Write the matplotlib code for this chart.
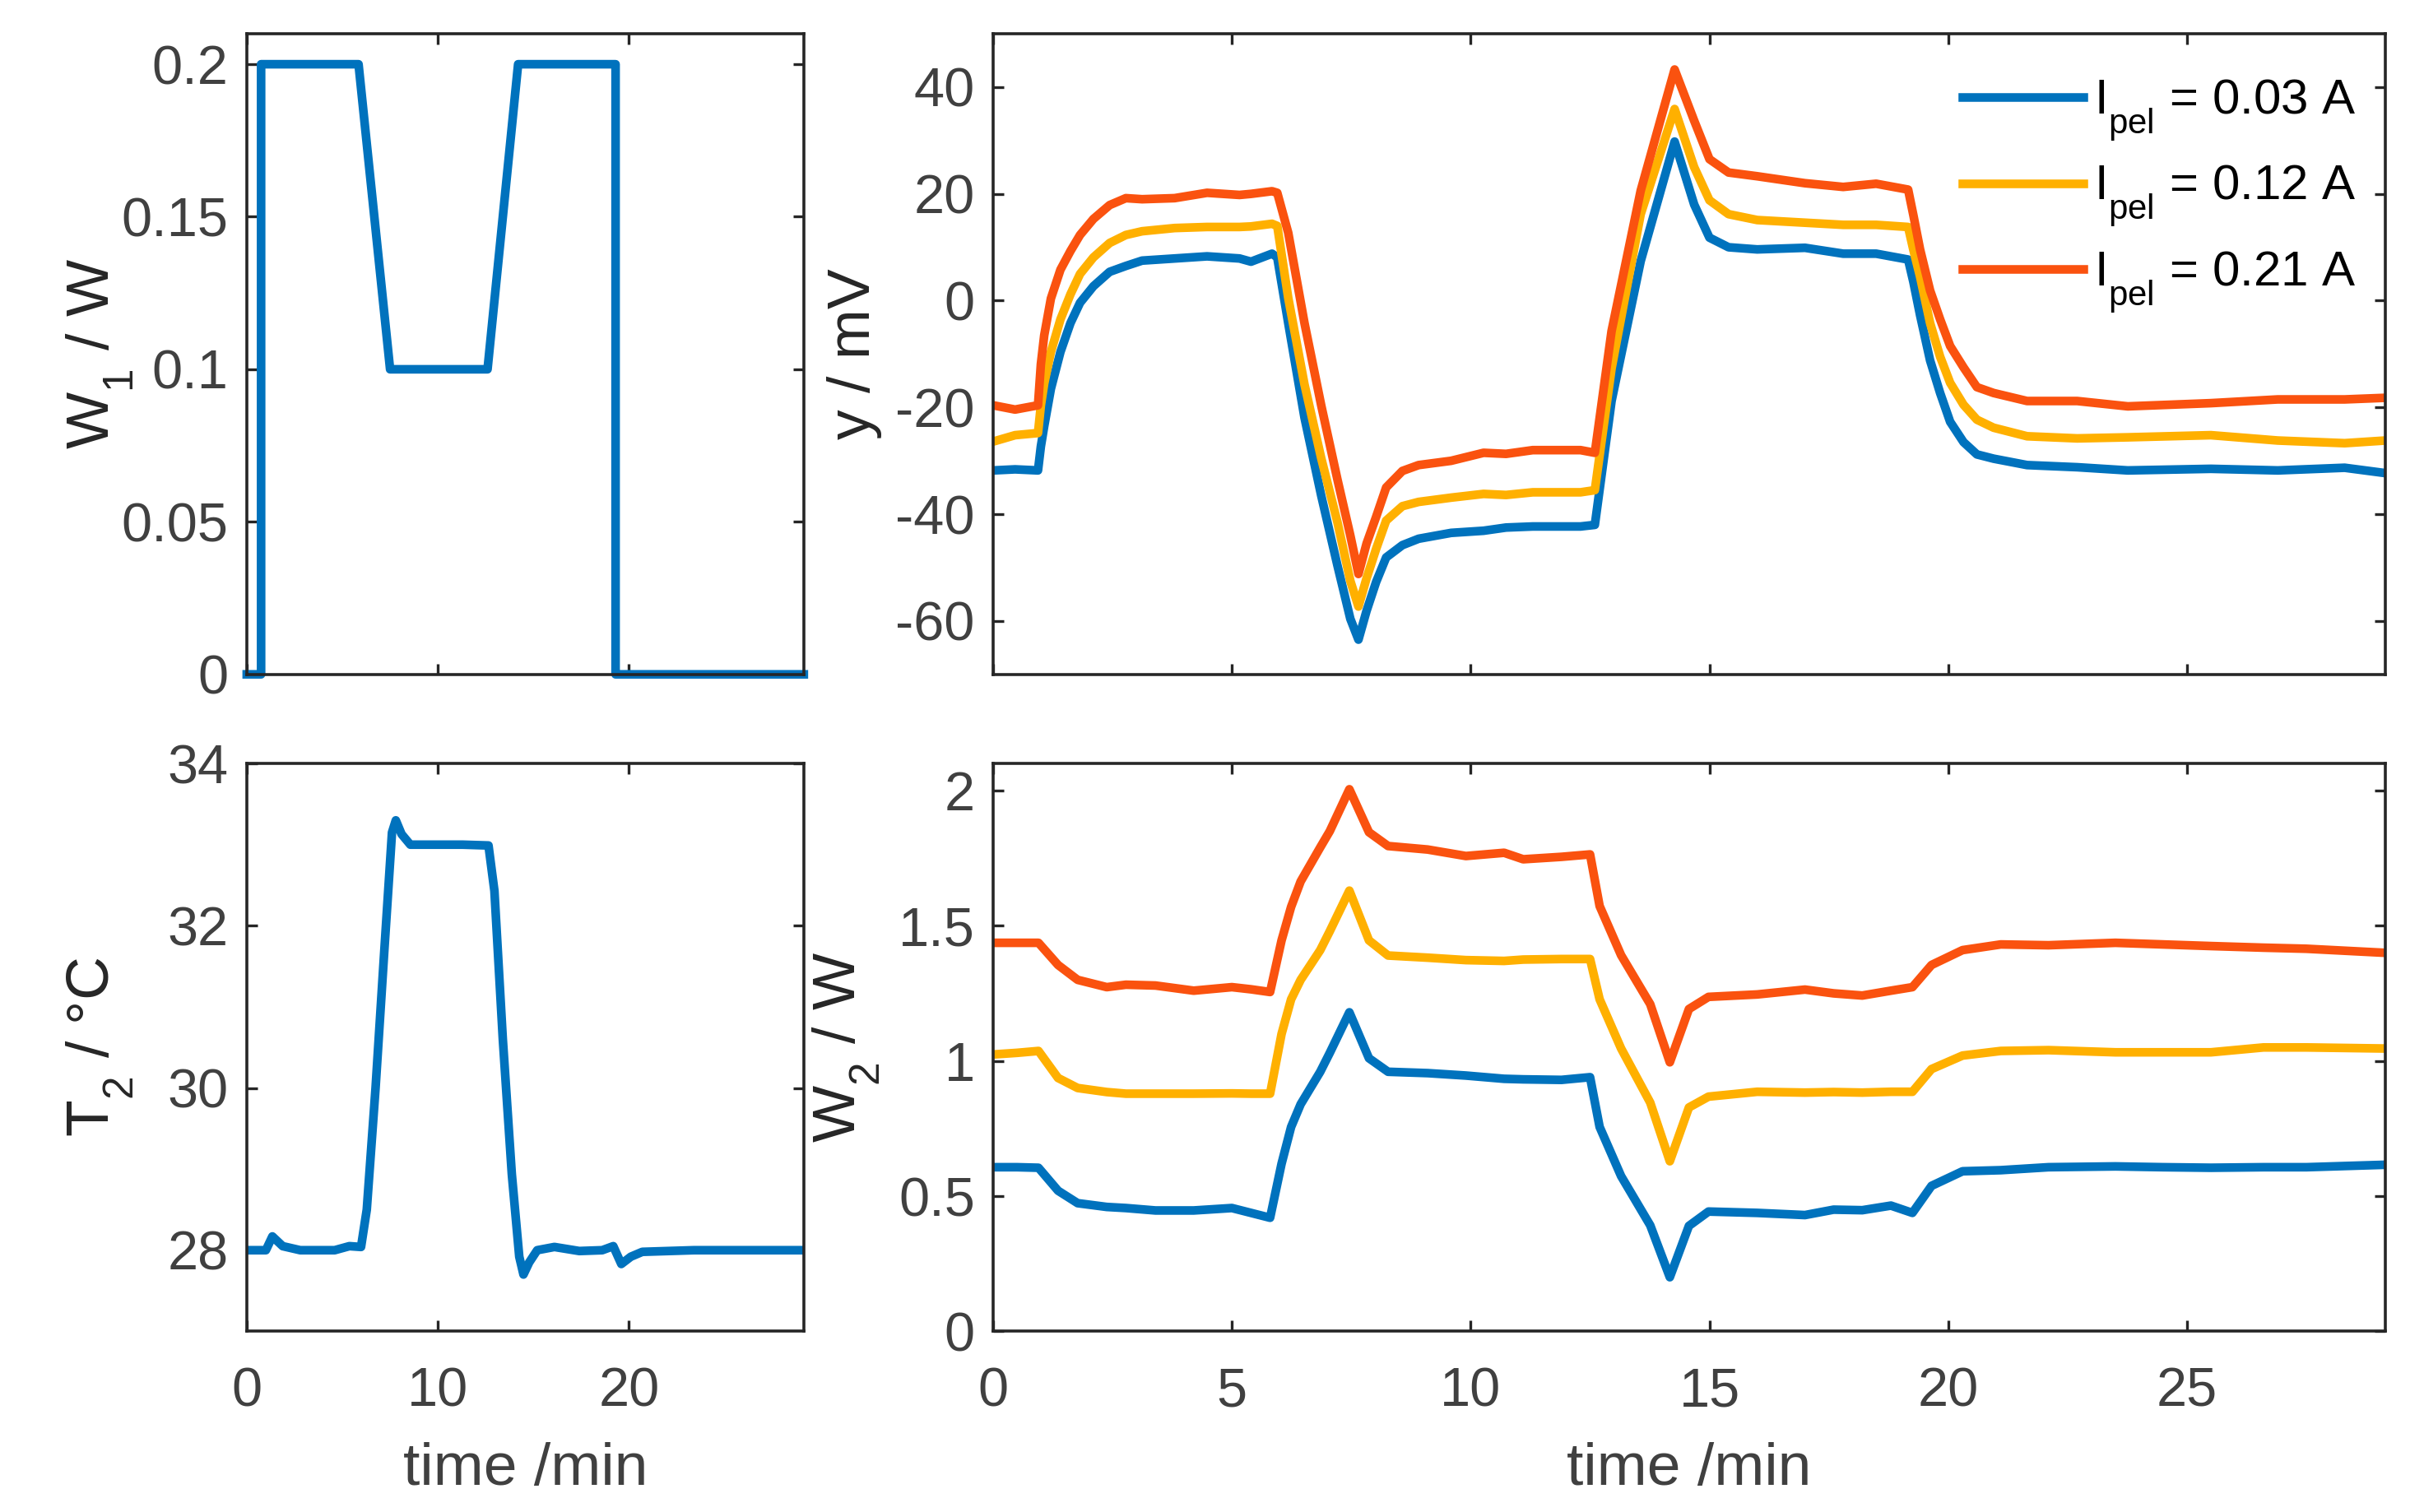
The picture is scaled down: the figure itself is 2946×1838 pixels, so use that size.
import matplotlib
matplotlib.use("Agg")
import matplotlib.pyplot as plt
from matplotlib.ticker import FuncFormatter

plt.rcParams["font.family"] = ["Liberation Sans", "DejaVu Sans"]
plt.rcParams["mathtext.fontset"] = "custom"
plt.rcParams["mathtext.rm"] = "Liberation Sans"
plt.rcParams["mathtext.default"] = "rm"
plt.rcParams["axes.unicode_minus"] = False

# MATLAB-like TeX subscripts sit lower than mathtext's default
try:
    import matplotlib._mathtext as _mt
    _mt.FontConstantsBase.sub1 = 0.8
except Exception:
    pass

# ---- data ----
series_labels = [r"I$_{\rm pel}$ = 0.03 A", r"I$_{\rm pel}$ = 0.12 A", r"I$_{\rm pel}$ = 0.21 A"]
colors = ["#0072BD", "#FFB000", "#FA520F"]

t_w1 = [0, 0.75, 0.75, 5.85, 7.5, 12.6, 14.2, 19.3, 19.3, 29.15]
w1 = [0, 0, 0.2, 0.2, 0.1, 0.1, 0.2, 0.2, 0, 0]

t_t2 = [0, 1.0, 1.34, 1.88, 2.8, 4.6, 5.37, 5.98, 6.28, 6.74,
        7.2, 7.6, 7.8, 8.1, 8.56, 10.0, 11.3, 12.65, 12.96, 13.4,
        13.87, 14.26, 14.48, 14.78, 15.2, 16.1, 17.4, 18.6, 19.18, 19.6,
        20.1, 20.7, 23.4, 26.5, 29.15]
t2 = [28.0, 28.0, 28.17, 28.05, 28.0, 28.0, 28.05, 28.04, 28.5, 30.0,
      31.7, 33.15, 33.3, 33.13, 33.0, 33.0, 33.0, 32.99, 32.43, 30.6,
      28.94, 27.92, 27.7, 27.85, 28.0, 28.04, 27.99, 28.0, 28.05, 27.83,
      27.92, 27.98, 28.0, 28.0, 28.0]

t_y = [0, 0.46, 0.94, 1.0, 1.07, 1.21, 1.41, 1.62, 1.82, 2.1,
       2.44, 2.78, 3.12, 3.8, 4.48, 5.16, 5.4, 5.84, 5.95, 6.18,
       6.52, 6.87, 7.21, 7.48, 7.65, 7.82, 8.02, 8.23, 8.57, 8.91,
       9.59, 10.27, 10.74, 11.3, 12.3, 12.6, 12.95, 13.56, 14.27, 14.68,
       15.0, 15.4, 16.0, 17.0, 17.8, 18.49, 19.16, 19.27, 19.41, 19.62,
       19.83, 20.04, 20.32, 20.6, 20.95, 21.65, 22.7, 23.76, 25.5, 26.9,
       28.3, 29.15]
y_blue = [-31.8, -31.6, -31.8, -27.3, -23.5, -16.5, -9.6, -4.2, -0.4, 2.7,
          5.4, 6.5, 7.5, 7.9, 8.3, 7.9, 7.3, 8.8, 8.1, -4.2,
          -21.9, -36.5, -49.6, -59.6, -63.5, -58.1, -52.7, -48.1, -45.8, -44.6,
          -43.5, -43.1, -42.5, -42.3, -42.3, -42.0, -18.8, 7.4, 29.8, 18.0,
          11.8, 10.0, 9.6, 9.9, 8.8, 8.8, 7.7, 3.5, -2.7, -11.2,
          -17.3, -22.7, -26.5, -28.8, -29.6, -30.8, -31.2, -31.8, -31.5, -31.8,
          -31.3, -32.3]
y_yellow = [-26.4, -25.2, -24.8, -19.6, -15.5, -9.6, -3.5, 1.2, 5.0, 8.1,
            10.8, 12.3, 13.0, 13.6, 13.8, 13.8, 13.9, 14.4, 14.0, 0.5,
            -15.7, -29.5, -41.5, -52.5, -57.3, -52.0, -46.5, -41.2, -38.5, -37.7,
            -36.9, -36.2, -36.4, -35.9, -35.9, -35.5, -12.7, 16.2, 35.9, 25.0,
            18.8, 16.2, 15.1, 14.6, 14.2, 14.2, 13.8, 9.5, 4.5, -4.2,
            -10.5, -15.4, -19.5, -22.3, -23.8, -25.4, -25.8, -25.6, -25.2, -26.2,
            -26.7, -26.2]
y_red = [-19.6, -20.4, -19.6, -11.9, -6.5, 0.4, 5.8, 9.3, 12.3, 15.3,
         17.9, 19.2, 19.0, 19.2, 20.2, 19.8, 20.0, 20.5, 20.2, 12.7,
         -4.2, -19.6, -33.5, -44.0, -51.2, -45.5, -40.5, -35.0, -31.9, -30.8,
         -30.0, -28.5, -28.7, -28.0, -28.0, -28.5, -5.7, 20.6, 43.3, 33.7,
         26.5, 24.0, 23.3, 22.0, 21.3, 21.9, 20.8, 16.0, 9.6, 1.9,
         -3.5, -8.5, -12.5, -16.2, -17.3, -18.8, -18.8, -19.8, -19.2, -18.5,
         -18.5, -18.2]

t_w2 = [0, 0.5, 0.95, 1.36, 1.77, 2.38, 2.78, 3.4, 4.2, 5.0,
        5.4, 5.8, 6.04, 6.24, 6.44, 6.85, 7.05, 7.46, 7.87, 8.27,
        9.1, 9.9, 10.7, 11.1, 11.9, 12.5, 12.7, 13.15, 13.76, 14.17,
        14.57, 14.98, 16.0, 17.0, 17.6, 18.2, 18.8, 19.25, 19.65, 20.3,
        21.1, 22.1, 23.5, 24.5, 25.5, 26.6, 27.5, 29.15]
w2_blue = [0.607, 0.607, 0.605, 0.52, 0.474, 0.46, 0.456, 0.447, 0.447, 0.456,
           0.438, 0.42, 0.62, 0.756, 0.84, 0.96, 1.03, 1.18, 1.01, 0.96,
           0.955, 0.946, 0.934, 0.932, 0.93, 0.94, 0.756, 0.574, 0.392, 0.2,
           0.39, 0.443, 0.438, 0.43, 0.45, 0.448, 0.465, 0.438, 0.538, 0.592,
           0.596, 0.607, 0.61, 0.607, 0.605, 0.607, 0.607, 0.616]
w2_yellow = [1.024, 1.03, 1.037, 0.937, 0.9, 0.885, 0.879, 0.879, 0.879, 0.88,
             0.879, 0.879, 1.1, 1.228, 1.3, 1.41, 1.48, 1.63, 1.446, 1.39,
             1.382, 1.373, 1.37, 1.375, 1.377, 1.377, 1.228, 1.046, 0.846, 0.629,
             0.828, 0.868, 0.886, 0.883, 0.885, 0.883, 0.886, 0.886, 0.97, 1.02,
             1.037, 1.04, 1.032, 1.032, 1.032, 1.05, 1.05, 1.046]
w2_red = [1.437, 1.437, 1.437, 1.355, 1.3, 1.273, 1.282, 1.279, 1.26, 1.273,
          1.265, 1.255, 1.446, 1.57, 1.664, 1.79, 1.85, 2.005, 1.846, 1.795,
          1.782, 1.758, 1.77, 1.746, 1.755, 1.764, 1.573, 1.391, 1.21, 0.995,
          1.192, 1.237, 1.246, 1.264, 1.25, 1.242, 1.26, 1.273, 1.355, 1.41,
          1.431, 1.428, 1.437, 1.431, 1.425, 1.419, 1.415, 1.4]

# ---- figure ----
TICK_FS = 24
LABEL_FS = 26.4
LEG_FS = 21.6
LW = 3.8
AX_COLOR = "#262626"
TICK_COLOR = "#404040"

fig = plt.figure(figsize=(14.73, 9.19), dpi=200)
ax_w1 = fig.add_axes([0.1018, 0.5540, 0.2298, 0.4237])
ax_y = fig.add_axes([0.4097, 0.5540, 0.5743, 0.4237])
ax_t2 = fig.add_axes([0.1018, 0.1195, 0.2298, 0.3755])
ax_w2 = fig.add_axes([0.4097, 0.1195, 0.5743, 0.3755])

gfmt = FuncFormatter(lambda v, pos: f"{v:g}")

for ax in (ax_w1, ax_y, ax_t2, ax_w2):
    ax.tick_params(direction="in", top=True, right=True, length=4.7, width=1.2,
                   labelsize=TICK_FS, colors=AX_COLOR, labelcolor=TICK_COLOR, pad=8)
    ax.tick_params(axis="x", pad=15.5)
    for sp in ax.spines.values():
        sp.set_linewidth(1.3)
        sp.set_color(AX_COLOR)
    ax.set_xlim(0, 29.15)
    ax.yaxis.set_major_formatter(gfmt)

# W1
ax_w1.plot(t_w1, w1, color=colors[0], lw=LW, clip_on=False)
ax_w1.set_ylim(0, 0.21)
ax_w1.set_yticks([0, 0.05, 0.1, 0.15, 0.2])
ax_w1.set_xticks([0, 10, 20])
ax_w1.tick_params(axis="x", labelbottom=False)
ax_w1.set_ylabel(r"W$_1$ / W", fontsize=LABEL_FS, color=AX_COLOR)
ax_w1.yaxis.set_label_coords(-0.20, 0.5)

# T2
ax_t2.plot(t_t2, t2, color=colors[0], lw=LW)
ax_t2.set_ylim(27, 34)
ax_t2.set_yticks([28, 30, 32, 34])
ax_t2.set_xticks([0, 10, 20])
ax_t2.set_ylabel(r"T$_2$ / °C", fontsize=LABEL_FS, color=AX_COLOR)
ax_t2.yaxis.set_label_coords(-0.20, 0.5)
ax_t2.set_xlabel("time /min", fontsize=LABEL_FS, color=TICK_COLOR)
ax_t2.xaxis.set_label_coords(0.5, -0.195)

# y
for vals, c, lab in zip([y_blue, y_yellow, y_red], colors, series_labels):
    ax_y.plot(t_y, vals, color=c, lw=LW, label=lab)
ax_y.set_ylim(-70, 50)
ax_y.set_yticks([-60, -40, -20, 0, 20, 40])
ax_y.set_xticks([0, 5, 10, 15, 20, 25])
ax_y.tick_params(axis="x", labelbottom=False)
ax_y.set_ylabel("y / mV", fontsize=LABEL_FS, color=AX_COLOR)
ax_y.yaxis.set_label_coords(-0.08, 0.5)
ax_y.legend(loc="upper right", bbox_to_anchor=(1.004, 0.985), frameon=False,
            fontsize=LEG_FS, handlelength=2.45, handletextpad=0.22,
            labelspacing=0.4, borderaxespad=0.3)

# W2
for vals, c in zip([w2_blue, w2_yellow, w2_red], colors):
    ax_w2.plot(t_w2, vals, color=c, lw=LW)
ax_w2.set_ylim(0, 2.1)
ax_w2.set_yticks([0, 0.5, 1, 1.5, 2])
ax_w2.set_xticks([0, 5, 10, 15, 20, 25])
ax_w2.set_ylabel(r"W$_2$ / W", fontsize=LABEL_FS, color=AX_COLOR)
ax_w2.yaxis.set_label_coords(-0.08, 0.5)
ax_w2.set_xlabel("time /min", fontsize=LABEL_FS, color=TICK_COLOR)
ax_w2.xaxis.set_label_coords(0.5, -0.195)

fig.savefig("out.png", dpi=200)
